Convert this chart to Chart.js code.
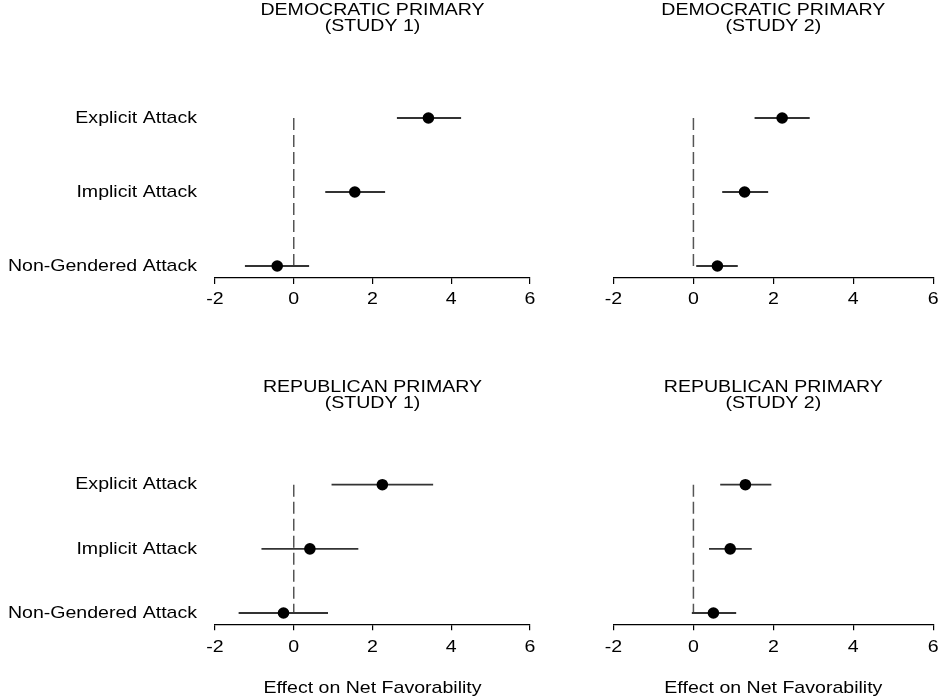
<!DOCTYPE html>
<html><head><meta charset="utf-8">
<script src="https://cdn.jsdelivr.net/npm/chart.js@4.4.1/dist/chart.umd.min.js"></script>
<style>
html,body{margin:0;padding:0;background:#fff;}
#wrap{position:relative;width:939px;height:700px;overflow:hidden;background:#fff;}
canvas{position:absolute;left:0;top:0;}
</style></head><body>
<div id="wrap">
<canvas id="c1" width="939" height="700"></canvas>
<canvas id="c2" width="939" height="700"></canvas>
<canvas id="c3" width="939" height="700"></canvas>
<canvas id="c4" width="939" height="700"></canvas>
</div>
<script>
// ---- data ----
const categories = ['Explicit Attack', 'Implicit Attack', 'Non-Gendered Attack'];
const rowPos = [3, 2, 1];
const xMin = -2, xMax = 6, xStep = 2;
const refValue = 0;
const xAxisTitle = 'Effect on Net Favorability';

const dem1Title = ['DEMOCRATIC PRIMARY', '(STUDY 1)'];
const dem1Est = [3.42, 1.55, -0.42];
const dem1Lo  = [2.62, 0.80, -1.24];
const dem1Hi  = [4.25, 2.32, 0.39];

const dem2Title = ['DEMOCRATIC PRIMARY', '(STUDY 2)'];
const dem2Est = [2.22, 1.28, 0.60];
const dem2Lo  = [1.53, 0.72, 0.07];
const dem2Hi  = [2.91, 1.87, 1.11];

const rep1Title = ['REPUBLICAN PRIMARY', '(STUDY 1)'];
const rep1Est = [2.25, 0.41, -0.26];
const rep1Lo  = [0.96, -0.82, -1.40];
const rep1Hi  = [3.54, 1.64, 0.87];

const rep2Title = ['REPUBLICAN PRIMARY', '(STUDY 2)'];
const rep2Est = [1.30, 0.92, 0.50];
const rep2Lo  = [0.67, 0.39, -0.04];
const rep2Hi  = [1.95, 1.46, 1.07];

// ---- styling / layout ----
const FONT = "'Liberation Sans', Arial, Helvetica, sans-serif";
const FS = 17;          // glyph height
const SX = 1.15;        // horizontal text stretch (reference text is wide)
const W = 939, H = 700;
const TITLE_LH = 0.98;

// text stretch: real canvas text, drawn wider than its natural width
const stretchText = {
  id: 'stretchText',
  beforeInit(chart) {
    const ctx = chart.ctx;
    const P = CanvasRenderingContext2D.prototype;
    ctx.fillText = function (t, x, y) {
      this.save(); this.translate(x, y); this.scale(SX, 1);
      P.fillText.call(this, t, 0, 0);
      this.restore();
    };
    ctx.measureText = function (t) {
      const m = P.measureText.call(this, t);
      return {width: m.width * SX,
              actualBoundingBoxAscent: m.actualBoundingBoxAscent,
              actualBoundingBoxDescent: m.actualBoundingBoxDescent,
              actualBoundingBoxLeft: m.actualBoundingBoxLeft * SX,
              actualBoundingBoxRight: m.actualBoundingBoxRight * SX};
    };
  }
};

function makePanel(id, p) {
  const lineH = FS * TITLE_LH;
  const padTop = p.outerTop;
  const pt = p.titleCenter - padTop - lineH / 2;
  const pb = p.area.top - padTop - pt - 2 * lineH;
  const datasets = [];
  datasets.push({
    type: 'scatter',
    data: p.est.map((v, i) => ({x: v, y: rowPos[i]})),
    pointRadius: 5.8, pointHoverRadius: 5.8,
    backgroundColor: '#000', borderWidth: 0, order: 0
  });
  p.lo.forEach((lo, i) => {
    datasets.push({
      type: 'line',
      data: [{x: lo, y: rowPos[i]}, {x: p.hi[i], y: rowPos[i]}],
      borderColor: '#333', borderWidth: 1.8, pointRadius: 0, order: 1
    });
  });
  datasets.push({
    type: 'line',
    data: [{x: refValue, y: rowPos[0]}, {x: refValue, y: rowPos[rowPos.length - 1]}],
    borderColor: '#555', borderWidth: 1.5, borderDash: [12, 5], pointRadius: 0, order: 2
  });

  new Chart(document.getElementById(id), {
    type: 'scatter',
    data: {datasets},
    plugins: [stretchText],
    options: {
      responsive: false, animation: false, events: [],
      layout: {padding: {left: 0, right: W - p.area.right, top: padTop, bottom: H - p.area.bottom - p.xH}},
      plugins: {
        legend: {display: false}, tooltip: {enabled: false},
        title: {
          display: true, text: p.title, fullSize: false, color: '#000',
          font: {family: FONT, size: FS, weight: 'normal', lineHeight: TITLE_LH},
          padding: {top: pt, bottom: pb}
        }
      },
      scales: {
        x: {
          type: 'linear', min: xMin, max: xMax,
          ticks: {stepSize: xStep, color: '#000', padding: p.tickPad, font: {family: FONT, size: FS}},
          grid: {display: true, drawOnChartArea: false, drawTicks: true, tickLength: 6, color: '#000', lineWidth: 1.2},
          border: {display: true, color: '#000', width: 1.2},
          title: {display: p.showXTitle, text: xAxisTitle, color: '#000', padding: {top: 0, bottom: 1.8},
                  font: {family: FONT, size: FS}},
          afterFit: (s) => { s.height = p.xH; s.paddingLeft = 0; s.paddingRight = 0; }
        },
        y: {
          type: 'linear', min: p.yMin, max: p.yMax,
          afterBuildTicks: (s) => { s.ticks = rowPos.map(v => ({value: v})); },
          ticks: {
            display: p.showY, color: '#000', padding: 18, font: {family: FONT, size: FS},
            callback: (v) => { const i = rowPos.indexOf(v); return i >= 0 ? categories[i] : ''; }
          },
          grid: {display: false, drawTicks: false, tickLength: 0},
          border: {display: false},
          afterFit: (s) => { s.width = p.area.left; s.paddingTop = 0; s.paddingBottom = 0; }
        }
      }
    }
  });
}

// top row: rows at 118 / 266, axis at 278
const topArea = (l, r) => ({left: l, right: r, top: 90, bottom: 278});
const topYMin = 1 - 12 / 74, topYMax = 3 + 28 / 74;
// bottom row: rows at 484.7 / 613, axis at 624.3
const botArea = (l, r) => ({left: l, right: r, top: 455, bottom: 624.3});
const botYMin = 1 - 11.3 / 64.15, botYMax = 3 + 29.7 / 64.15;

makePanel('c1', {title: dem1Title, est: dem1Est, lo: dem1Lo, hi: dem1Hi, showY: true, showXTitle: false,
  area: topArea(215, 530), yMin: topYMin, yMax: topYMax, outerTop: 0, titleCenter: 10, xH: 40, tickPad: 5});
makePanel('c2', {title: dem2Title, est: dem2Est, lo: dem2Lo, hi: dem2Hi, showY: false, showXTitle: false,
  area: topArea(613.5, 937), yMin: topYMin, yMax: topYMax, outerTop: 0, titleCenter: 10, xH: 40, tickPad: 5});
makePanel('c3', {title: rep1Title, est: rep1Est, lo: rep1Lo, hi: rep1Hi, showY: true, showXTitle: true,
  area: botArea(215, 530), yMin: botYMin, yMax: botYMax, outerTop: 350, titleCenter: 387, xH: 75.7, tickPad: 7});
makePanel('c4', {title: rep2Title, est: rep2Est, lo: rep2Lo, hi: rep2Hi, showY: false, showXTitle: true,
  area: botArea(613.5, 937), yMin: botYMin, yMax: botYMax, outerTop: 350, titleCenter: 387, xH: 75.7, tickPad: 7});
</script>
</body></html>
